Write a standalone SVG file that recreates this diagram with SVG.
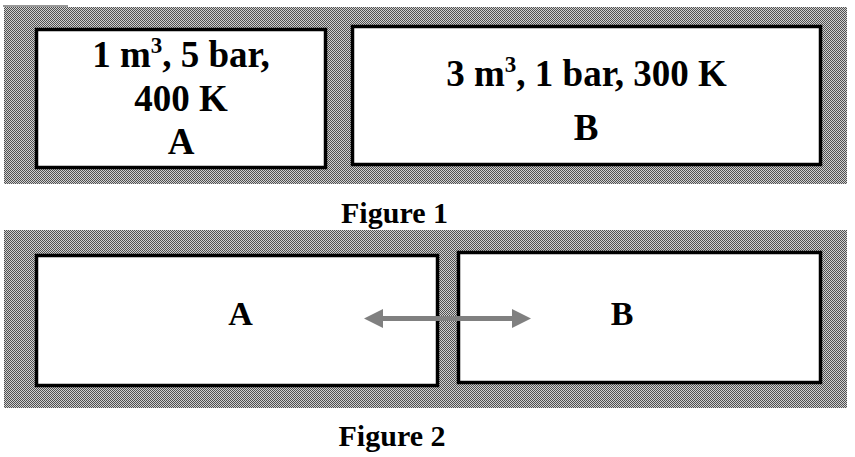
<svg xmlns="http://www.w3.org/2000/svg" width="855" height="457" viewBox="0 0 855 457">
<style>
.box{fill:#fff;stroke:#000;stroke-width:3.5}
.hatch{fill:url(#chk)}
.t{font-family:"Liberation Serif","Times New Roman",serif;font-weight:bold;fill:#000;text-anchor:middle}
.big{font-size:37px}
.mid{font-size:34px}
.cap{font-size:30px}
.arr{fill:#808080}
</style>
<defs>
<pattern id="chk" patternUnits="userSpaceOnUse" width="2" height="2">
<rect width="2" height="2" fill="#d0d0d0"/>
<rect width="1" height="1" fill="#505050"/>
<rect x="1" y="1" width="1" height="1" fill="#505050"/>
</pattern>
</defs>
<rect width="855" height="457" fill="#fff"/>
<g id="figure1">
<line x1="3" y1="6" x2="68" y2="6" stroke="#333" stroke-width="1"/>
<rect class="hatch" x="4" y="7" width="843" height="177"/>
<g id="nodeA1">
<rect class="box" x="36.5" y="29.5" width="289" height="138"/>
<text class="t big" x="181" y="67">1 m<tspan font-size="23" dy="-14">3</tspan><tspan dy="14">, 5 bar,</tspan></text>
<text class="t big" x="181" y="111">400 K</text>
<text class="t big" x="181" y="154">A</text>
</g>
<g id="nodeB1">
<rect class="box" x="352.5" y="26.5" width="468" height="138"/>
<text class="t big" x="586.5" y="86">3 m<tspan font-size="23" dy="-14">3</tspan><tspan dy="14">, 1 bar, 300 K</tspan></text>
<text class="t big" x="586" y="140">B</text>
</g>
<text class="t cap" x="394.5" y="223">Figure 1</text>
</g>
<g id="figure2">
<rect class="hatch" x="4" y="230" width="843" height="178"/>
<g id="nodeA2">
<rect class="box" x="36.5" y="255.5" width="401" height="130"/>
<text class="t mid" x="240.5" y="325">A</text>
</g>
<g id="nodeB2">
<rect class="box" x="458.5" y="252.5" width="362" height="130"/>
<text class="t mid" x="622" y="325">B</text>
</g>
<text class="t cap" x="392" y="446">Figure 2</text>
</g>
<g id="connectors">
<path class="arr" d="M364,318.5 L383,309 L383,316 L512,316 L512,309 L531,318.5 L512,328 L512,321 L383,321 L383,328 Z"/>
</g>
</svg>
